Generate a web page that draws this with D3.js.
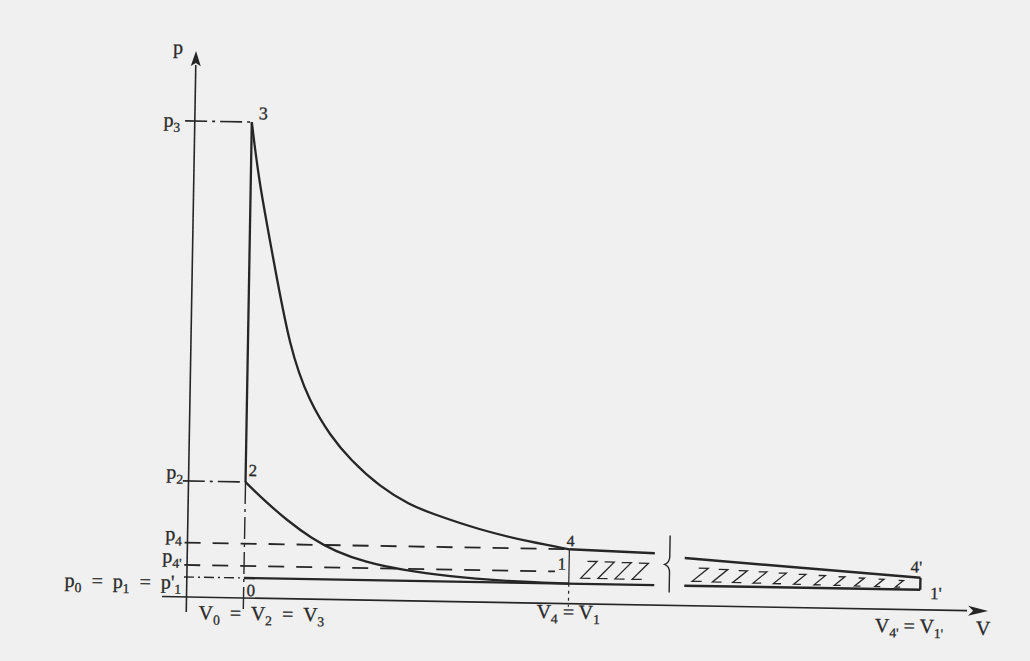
<!DOCTYPE html>
<html>
<head>
<meta charset="utf-8">
<script src="https://cdn.jsdelivr.net/npm/d3@7/dist/d3.min.js"></script>
<style>
	body { margin: 0; background: #f0f0f0; }
	svg { display: block; }
	text { font-family: "Liberation Serif", "DejaVu Serif", serif; fill: #2a2a2a; stroke: #2a2a2a; stroke-width: 0.3; white-space: pre; }
</style>
</head>
<body>
<div id="chart"></div>
<script>
// pressure levels, p0 = 1 (schematic units)
var p0 = 1.0;
var levelNames = ["p_3", "p_2", "p_4", "p_4'"];
var levelValues = [23.8, 5.8, 2.72, 1.6];

// volumes
var V0 = 1.0, V1 = 6.7, V4p = 18.5;
var breakFrom = 8.2, breakTo = 14;

// expansion 3 -> 4 and compression 1 -> 2
var expansionV = [1.0, 1.14, 1.39, 1.74, 2.1, 2.47, 2.83, 3.36, 3.89, 4.25, 5.13, 6.01, 6.7];
var expansionP = [23.8, 20.9, 17.4, 12.4, 9.85, 8.2, 7.0, 5.67, 4.8, 4.41, 3.6, 3.05, 2.72];
var compressionV = [1.0, 1.33, 1.75, 2.17, 2.6, 3.13, 3.75, 4.62, 5.5, 6.7];
var compressionP = [5.8, 4.9, 3.9, 3.05, 2.4, 1.9, 1.55, 1.25, 1.08, 1.0];

// continued expansion 4 -> 4', on both sides of the break
var nearV = [6.7, 8.2], nearP = [2.72, 2.6];
var farV = [14, 18.5], farP = [2.38, 1.6];

var axisLabels = ["V_0  =  V_2  =  V_3", "V_4 = V_1", "V_4' = V_1'"];
var axisLabelV = [1.32, 6.7, 18.3];

var svg = d3.select("#chart").append("svg")
	.attr("width", 1030)
	.attr("height", 661);

svg.append("rect").attr("width", 1030).attr("height", 661).attr("fill", "#f0f0f0");

// the scan is turned about a degree, so the whole drawing is too
var g = svg.append("g").attr("transform", "rotate(1,187,597)");

var x = d3.scaleLinear().domain([0, breakFrom, breakTo, V4p]).range([186.5, 654, 684, 920]);
var y = d3.scaleLinear().domain([0, 27.3]).range([597, 51]);

var ink = "#262626";
var dashDot = "22,5,3,5";

function seg(x1, y1, x2, y2, w, dash) {
	var l = g.append("line")
		.attr("x1", x1).attr("y1", y1)
		.attr("x2", x2).attr("y2", y2)
		.attr("stroke", ink)
		.attr("stroke-width", w);
	if (dash) l.attr("stroke-dasharray", dash);
	return l;
}

// text with subscripts, "p_4'" -> p + sub 4'
function label(str, tx, ty, anchor, size) {
	var t = g.append("text")
		.attr("x", tx).attr("y", ty)
		.attr("text-anchor", anchor || "start")
		.style("font-size", (size || 19) + "px");
	var lowered = false;
	str.split(/(_[^\s]+)/).forEach(function (part) {
		if (part === "") return;
		if (part[0] === "_") {
			t.append("tspan").attr("dy", 5).style("font-size", "0.68em").text(part.slice(1));
			lowered = true;
		} else {
			t.append("tspan").attr("dy", lowered ? -5 : 0).text(part);
			lowered = false;
		}
	});
	return t;
}

// axes
seg(x(0), y(-0.75), x(0), y(26.6), 1.6);
g.append("path")
	.attr("d", "M" + x(0) + "," + y(27.3) + "l-5,15l5,-3l5,3z")
	.attr("fill", ink);
seg(x(-0.43), y(0), x(19.4), y(0), 1.6);
g.append("path")
	.attr("d", "M" + x(19.8) + "," + y(0) + "l-20,-5l5,5l-5,5z")
	.attr("fill", ink);
label("p", x(0) - 23, y(27.3) + 3, "start", 20);
label("V", x(19.8) - 12, y(0) + 24, "start", 20);

// level lines
seg(x(-0.17), y(levelValues[0]), x(V0), y(levelValues[0]), 1.6, dashDot);
seg(x(-0.1), y(levelValues[1]), x(V0), y(levelValues[1]), 1.6, dashDot);
seg(x(-0.05), y(levelValues[2]), x(V1), y(levelValues[2]), 1.8, "16,12");
seg(x(-0.05), y(levelValues[3]), x(V1) - 14, y(levelValues[3]), 1.8, "16,12");
seg(x(-0.05), y(p0), x(V0), y(p0), 1.4, "10,4,2,4");

levelNames.forEach(function (n, i) {
	label(n, i === 0 ? 172 : 181, y(levelValues[i]) + (i === 0 ? 6 : -2), "end", 20);
});
label("p_0  =  p_1  =  p'_1", 181, y(p0) + 12, "end", 20);

// vertical guides
seg(x(V0), y(levelValues[1]), x(V0), y(-0.65), 1.4, dashDot);
seg(x(V1), y(levelValues[2]), x(V1), y(p0), 1.2);
seg(x(V1), y(p0), x(V1), y(-0.15), 1.2, "3,4");

// cycle
var line = d3.line()
	.x(function (d) { return x(d[0]); })
	.y(function (d) { return y(d[1]); })
	.curve(d3.curveBasis);

seg(x(V0), y(levelValues[1]), x(V0), y(levelValues[0]), 2.3);

g.append("path")
	.datum(d3.zip(expansionV, expansionP))
	.attr("d", line)
	.attr("fill", "none").attr("stroke", ink).attr("stroke-width", 2.3);

g.append("path")
	.datum(d3.zip(compressionV, compressionP))
	.attr("d", line)
	.attr("fill", "none").attr("stroke", ink).attr("stroke-width", 2.3);

seg(x(nearV[0]), y(nearP[0]), x(nearV[1]), y(nearP[1]), 2.5);
seg(x(farV[0]), y(farP[0]), x(farV[1]), y(farP[1]), 2.5);
seg(x(V0), y(p0), x(breakFrom), y(p0), 2.4);
seg(x(breakTo), y(p0), x(V4p), y(p0), 2.6);
seg(x(V4p), y(farP[1]), x(V4p), y(p0), 2.4);

// break mark
var bx = x((breakFrom + breakTo) / 2);
g.append("path")
	.attr("d", "M" + bx + "," + y(3.5) + "V" + y(2.45) +
		"q0,6 -5,8 q5,2 5,8 V" + y(0.65))
	.attr("fill", "none").attr("stroke", ink).attr("stroke-width", 1.4);

// hatching of 1-4-4'-1'
function topAt(v) {
	if (v <= breakFrom) return d3.scaleLinear().domain(nearV).range(nearP)(v);
	return d3.scaleLinear().domain(farV).range(farP)(v);
}
var hatchV = d3.range(7.05, 8.1, 0.3).concat(d3.range(14.3, 18.4, 0.38));
g.selectAll(".hatch")
	.data(hatchV)
	.enter().append("path")
	.attr("class", "hatch")
	.attr("d", function (v) {
		var cx = x(v), yt0 = y(topAt(v)), yb0 = y(p0);
		var h = yb0 - yt0;
		var yt = yt0 + 0.33 * h, yb = yb0 - 0.17 * h;
		var w = Math.max(3, Math.min(8, h * 0.3));
		return "M" + (cx - w * 0.2) + "," + yt + "H" + (cx + w) +
			"L" + (cx - w) + "," + yb + "H" + (cx + w * 0.2);
	})
	.attr("fill", "none").attr("stroke", ink).attr("stroke-width", 1.3);

// point labels
label("3", x(V0) + 7, y(levelValues[0]) - 3, "start", 18);
label("2", x(V0) + 3, y(levelValues[1]) - 6, "start", 17);
label("0", x(V0) + 3, y(p0) + 18, "start", 17);
label("4", x(V1) + 1, y(levelValues[2]) - 3, "middle", 16);
label("1", x(V1) - 3, y(p0) - 14, "end", 17);
label("4'", x(V4p) - 10, y(levelValues[3]) - 5, "start", 17);
label("1'", x(V4p) + 10, y(p0) + 9, "start", 17);

// axis value labels
axisLabels.forEach(function (s, i) {
	label(s, x(axisLabelV[i]), y(0) + (i === 0 ? 22 : i === 1 ? 15 : 23), "middle", 20);
});
</script>
</body>
</html>
